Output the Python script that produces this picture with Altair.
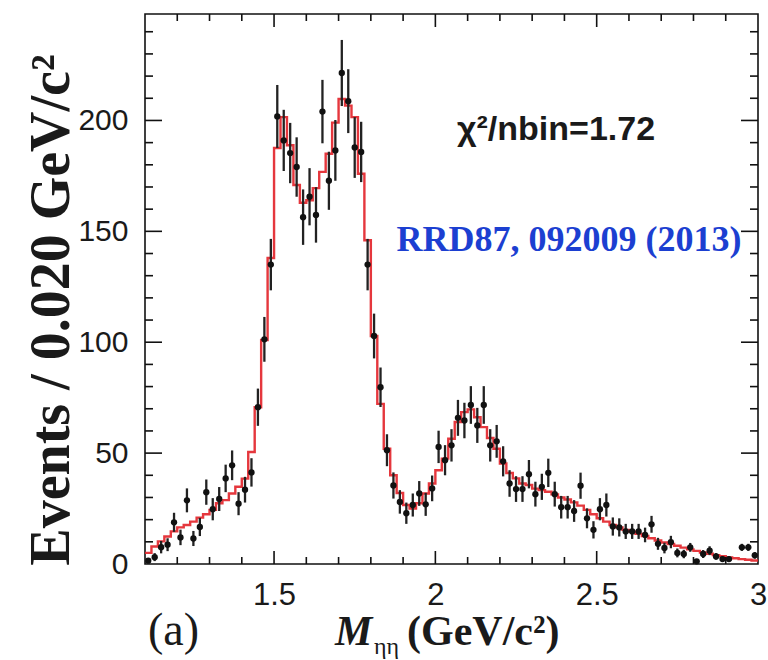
import altair as alt
import pandas as pd

# ---------------- data ----------------
x_start = 1.10
bin_width = 0.02

counts = [1.5, 3.1, 7.6, 8.7, 18.8, 12.0, 28.7, 11.5, 16.7, 32.4,
          24.7, 29.3, 38.6, 44.5, 27.2, 33.5, 41.3, 70.7, 101.3, 135.0,
          201.8, 191.0, 185.3, 179.0, 156.4, 165.6, 157.4, 204.0, 172.8, 186.5,
          221.4, 208.7, 187.8, 185.8, 135.0, 102.8, 79.7, 51.3, 35.4, 28.0,
          22.9, 26.6, 31.8, 26.9, 34.1, 52.8, 46.8, 53.5, 65.9, 64.7,
          71.7, 62.5, 71.7, 53.5, 55.3, 46.3, 36.3, 33.8, 33.8, 40.5,
          31.5, 34.8, 41.1, 31.5, 25.6, 25.6, 23.9, 35.3, 20.6, 15.4,
          24.7, 26.6, 16.9, 16.5, 14.7, 14.7, 14.7, 13.1, 17.9, 9.1,
          7.2, 9.9, 5.0, 4.5, 7.5, 1.2, 4.5, 6.0, 3.4, 2.2,
          2.2, 0.0, 7.5, 7.5, 3.9]

errors = [1.2, 1.8, 2.8, 2.9, 4.3, 3.5, 5.4, 3.4, 4.1, 5.7,
          5.0, 5.4, 6.2, 6.7, 5.2, 5.8, 6.4, 8.4, 10.1, 11.6,
          14.2, 13.8, 13.6, 13.4, 12.5, 12.9, 12.5, 14.3, 13.1, 13.7,
          14.9, 14.4, 13.7, 13.6, 11.6, 10.1, 8.9, 7.2, 5.9, 5.3,
          4.8, 5.2, 5.6, 5.2, 5.8, 7.3, 6.8, 7.3, 8.1, 8.0,
          8.5, 7.9, 8.5, 7.3, 7.4, 6.8, 6.0, 5.8, 5.8, 6.4,
          5.6, 5.9, 6.4, 5.6, 5.1, 5.1, 4.9, 5.9, 4.5, 3.9,
          5.0, 5.2, 4.1, 4.1, 3.4, 3.4, 3.4, 3.3, 3.8, 2.7,
          2.4, 2.8, 2.0, 1.9, 2.0, 1.0, 1.8, 2.0, 1.5, 1.3,
          1.3, 0.0, 1.6, 1.6, 1.5]

fit_values = [5.0, 7.9, 10.2, 12.4, 14.7, 16.5, 17.6, 19.1, 20.9, 22.4,
              24.4, 27.4, 28.8, 31.8, 34.8, 38.5, 50.5, 70.7, 101.0, 138.0,
              187.6, 201.5, 188.8, 170.9, 162.9, 164.0, 169.5, 176.8, 185.0, 199.0,
              209.7, 206.7, 201.5, 176.0, 146.0, 102.8, 72.2, 52.0, 40.0, 32.0,
              26.6, 25.0, 27.4, 31.8, 36.3, 42.3, 47.5, 56.5, 64.0, 68.5,
              69.7, 66.2, 61.7, 56.8, 52.0, 45.3, 41.0, 38.6, 36.3, 35.6,
              34.0, 33.3, 32.6, 31.4, 30.0, 29.1, 27.8, 26.3, 24.4, 22.4,
              20.6, 19.1, 17.6, 16.5, 15.4, 14.6, 13.6, 12.6, 11.6, 10.6,
              9.7, 9.0, 8.2, 7.4, 6.6, 5.9, 5.2, 4.6, 4.0, 3.5,
              3.0, 2.6, 2.2, 1.9, 1.6]

x_tick_labels = [1.5, 2.0, 2.5, 3.0]
x_minor = [1.2, 1.3, 1.4, 1.6, 1.7, 1.8, 1.9, 2.1, 2.2, 2.3, 2.4, 2.6, 2.7, 2.8, 2.9]
y_tick_labels = [0, 50, 100, 150, 200]
y_minor = [10, 20, 30, 40, 60, 70, 80, 90, 110, 120, 130, 140, 160, 170, 180, 190,
           210, 220, 230, 240]

x_domain = [1.10, 3.00]
y_domain = [0, 248]

# ---------------- tables ----------------
n = len(counts)
centers = [round(x_start + bin_width * (i + 0.5), 3) for i in range(n)]
pts = pd.DataFrame({"m": centers, "n": counts, "e": errors})
pts = pts[pts["n"] > 0]
pts["lo"] = pts["n"] - pts["e"]
pts["hi"] = pts["n"] + pts["e"]

edges = [round(x_start + bin_width * i, 3) for i in range(n)] + [x_domain[1]]
fit = pd.DataFrame({"m": edges, "f": fit_values + [fit_values[-1]]})

W, H = 613, 550

xs = alt.Scale(domain=x_domain, nice=False, zero=False)
ys = alt.Scale(domain=y_domain, nice=False, zero=True)

xax = alt.Axis(values=x_tick_labels, format="~g", labelFontSize=31, labelFont="Liberation Sans",
               labelColor="#1a1a1a", tickSize=0, domain=False, grid=False, labelPadding=16,
               title=None, labelFlush=False)
yax = alt.Axis(values=y_tick_labels, labelFontSize=30, labelFont="Liberation Sans",
               labelColor="#1a1a1a", tickSize=0, domain=False, grid=False, labelPadding=17,
               title=None)

# fit curve (step histogram)
fit_line = alt.Chart(fit).mark_line(interpolate="step-after", color="#e3262c",
                                    strokeWidth=2.4, opacity=0.92, clip=True).encode(
    x=alt.X("m:Q", scale=xs, axis=xax),
    y=alt.Y("f:Q", scale=ys, axis=yax),
)

bars = alt.Chart(pts).mark_rule(color="#222222", strokeWidth=2.3).encode(
    x=alt.X("m:Q", scale=xs),
    y=alt.Y("lo:Q", scale=ys),
    y2="hi:Q",
)

dots = alt.Chart(pts).mark_circle(color="#111111", size=40, opacity=1).encode(
    x=alt.X("m:Q", scale=xs),
    y=alt.Y("n:Q", scale=ys),
)

# inward ticks on all four sides
xmaj_df = pd.DataFrame({"t": x_tick_labels[:-1]})
xmin_df = pd.DataFrame({"t": x_minor})
ymaj_df = pd.DataFrame({"t": [v for v in y_tick_labels if v > 0]})
ymin_df = pd.DataFrame({"t": y_minor})

def xticks(df, L):
    b = alt.Chart(df).mark_rule(color="#111111", strokeWidth=1.6).encode(
        x=alt.X("t:Q", scale=xs), y=alt.value(H), y2=alt.value(H - L))
    t = alt.Chart(df).mark_rule(color="#111111", strokeWidth=1.6).encode(
        x=alt.X("t:Q", scale=xs), y=alt.value(0), y2=alt.value(L))
    return b + t

def yticks(df, L):
    l = alt.Chart(df).mark_rule(color="#111111", strokeWidth=1.6).encode(
        y=alt.Y("t:Q", scale=ys), x=alt.value(0), x2=alt.value(L))
    r = alt.Chart(df).mark_rule(color="#111111", strokeWidth=1.6).encode(
        y=alt.Y("t:Q", scale=ys), x=alt.value(W), x2=alt.value(W - L))
    return l + r

ticks = xticks(xmaj_df, 13) + xticks(xmin_df, 7) + yticks(ymaj_df, 17) + yticks(ymin_df, 8)

# text annotations
def label(txt, x, y, size, font, weight="normal", style="normal", color="#111111",
          align="left", angle=0, baseline="alphabetic"):
    return alt.Chart(pd.DataFrame({"s": [txt]})).mark_text(
        text=txt, fontSize=size, font=font, fontWeight=weight, fontStyle=style,
        color=color, align=align, baseline=baseline, angle=angle,
    ).encode(x=alt.value(x), y=alt.value(y))

chi = label("χ²/nbin=1.72", 411, 116, 34, "Liberation Sans", weight="bold",
            align="center", baseline="middle", color="#1a1a1a")
ref = label("RRD87, 092009 (2013)", 424, 226, 36, "Liberation Serif", weight="bold",
            align="center", baseline="middle", color="#1c3fd1")
ytitle = label("Events / 0.020 GeV/c²", -93, 296, 56, "Liberation Serif", weight="bold",
               align="center", baseline="middle", angle=270, color="#1a1a1a")
a_lbl = label("(a)", 3, 631, 46, "Liberation Serif", color="#1a1a1a")
m_lbl = label("M", 190, 631, 42, "Liberation Serif", weight="bold", style="italic", color="#1a1a1a")
sub_lbl = label("ηη", 229, 640, 24, "Liberation Serif", color="#1a1a1a")
unit_lbl = label("(GeV/c²)", 262, 631, 42, "Liberation Serif", weight="bold", color="#1a1a1a")

chart = alt.layer(
    fit_line, ticks, bars, dots, chi, ref, ytitle, a_lbl, m_lbl, sub_lbl, unit_lbl
).properties(
    width=W, height=H,
    autosize=alt.AutoSizeParams(type="none"),
    padding={"left": 145, "top": 14, "right": 10, "bottom": 96},
    background="white",
).configure_view(
    stroke="#111111", strokeWidth=1.6
)

chart.save("out.html", embed_options={"renderer": "svg", "actions": False})
